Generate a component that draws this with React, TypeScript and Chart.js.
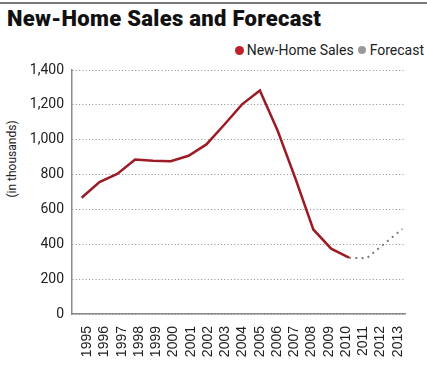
import React, { useEffect, useRef } from "react";
import { Chart, registerables } from "chart.js";

Chart.register(...registerables);

const years = [1995, 1996, 1997, 1998, 1999, 2000, 2001, 2002, 2003, 2004, 2005, 2006, 2007, 2008, 2009, 2010, 2011, 2012, 2013];
const salesYears = [1995, 1996, 1997, 1998, 1999, 2000, 2001, 2002, 2003, 2004, 2005, 2006, 2007, 2008, 2009, 2010];
const sales = [667, 757, 804, 886, 880, 877, 908, 973, 1086, 1203, 1283, 1051, 776, 485, 375, 323];
const forecastYears = [2010, 2011, 2012, 2013];
const forecast = [323, 320, 405, 488];
const yTicks = [0, 200, 400, 600, 800, 1000, 1200, 1400];

const RED = "#9c1c26";
const GRAY = "#8a8a8a";

export default function App() {
  const ref = useRef<HTMLCanvasElement | null>(null);

  useEffect(() => {
    const ctx = ref.current!;
    const chart = new Chart(ctx, {
      type: "line",
      data: {
        datasets: [
          {
            label: "New-Home Sales",
            data: salesYears.map((y, i) => ({ x: y, y: sales[i] })),
            borderColor: RED,
            borderWidth: 2.5,
            pointRadius: 0,
            tension: 0,
            xAxisID: "xData",
          },
          {
            label: "Forecast",
            data: forecastYears.map((y, i) => ({ x: y, y: forecast[i] })),
            borderColor: "#7a7a7a",
            borderWidth: 2,
            borderDash: [2, 4.3],
            pointRadius: 0,
            tension: 0,
            xAxisID: "xData",
          },
        ],
      },
      options: {
        animation: false,
        responsive: false,
        maintainAspectRatio: false,
        layout: { padding: { top: 70, right: 6, left: 0, bottom: 0 } },
        plugins: { legend: { display: false }, tooltip: { enabled: false } },
        scales: {
          xData: {
            type: "linear",
            display: false,
            min: 1994.46,
            max: 2013.16,
          },
          x: {
            type: "linear",
            position: "bottom",
            min: 1994.114,
            max: 2013.44,
            afterBuildTicks: (scale: any) => {
              scale.ticks = years.map((v) => ({ value: v }));
            },
            afterFit: (scale: any) => {
              scale.height = 53;
            },
            ticks: {
              autoSkip: false,
              maxRotation: 90,
              minRotation: 90,
              padding: 12,
              color: "#222",
              font: { family: "'Liberation Sans', Arial, sans-serif", size: 14 },
              callback: (v: any) => String(v),
            },
            grid: { display: false, drawTicks: false },
            border: { display: true, color: GRAY, width: 1.5 },
          },
          y: {
            type: "linear",
            min: 0,
            max: 1400,
            afterBuildTicks: (scale: any) => {
              scale.ticks = yTicks.map((v) => ({ value: v }));
            },
            afterFit: (scale: any) => {
              scale.width = 72;
            },
            ticks: {
              padding: 8,
              color: "#222",
              font: { family: "Roboto, sans-serif", size: 14 },
              callback: (v: any) => Number(v).toLocaleString("en-US"),
            },
            grid: { color: "#8c8c8c", lineWidth: 1, drawTicks: false },
            border: { display: true, color: GRAY, width: 1.5, dash: [1, 2.3] },
          },
        },
      },
    });
    return () => chart.destroy();
  }, []);

  return (
    <div style={{ position: "relative", width: 427, height: 367, background: "#fff", overflow: "hidden" }}>
      <style>{"body{margin:0}"}</style>
      <div style={{ position: "absolute", left: 0, top: 2, width: 427, height: 2, background: "#7a7a7a" }} />
      <div
        style={{
          position: "absolute",
          left: 7,
          top: 6,
          fontFamily: "Roboto, sans-serif",
          fontWeight: 900,
          fontSize: 22,
          lineHeight: "26px",
          letterSpacing: "0.3px",
          color: "#111",
          whiteSpace: "nowrap",
        }}
      >
        New-Home Sales and Forecast
      </div>
      <div
        style={{
          position: "absolute",
          right: 3,
          top: 41,
          display: "flex",
          alignItems: "center",
          fontFamily: "Roboto, sans-serif",
          fontSize: 14,
          lineHeight: "18px",
          color: "#222",
          whiteSpace: "nowrap",
        }}
      >
        <span style={{ display: "inline-block", width: 9, height: 9, borderRadius: "50%", background: "#c01f2c", marginRight: 3 }} />
        <span>New-Home Sales</span>
        <span style={{ display: "inline-block", width: 8, height: 8, borderRadius: "50%", background: "#999", marginLeft: 4, marginRight: 4 }} />
        <span>Forecast</span>
      </div>
      <div
        style={{
          position: "absolute",
          left: 12,
          top: 159,
          transform: "translate(-50%, -50%) rotate(-90deg)",
          fontFamily: "Roboto, sans-serif",
          fontSize: 12,
          color: "#222",
          whiteSpace: "nowrap",
        }}
      >
        (in thousands)
      </div>
      <canvas ref={ref} width={427} height={367} style={{ position: "absolute", left: 0, top: 0 }} />
    </div>
  );
}
